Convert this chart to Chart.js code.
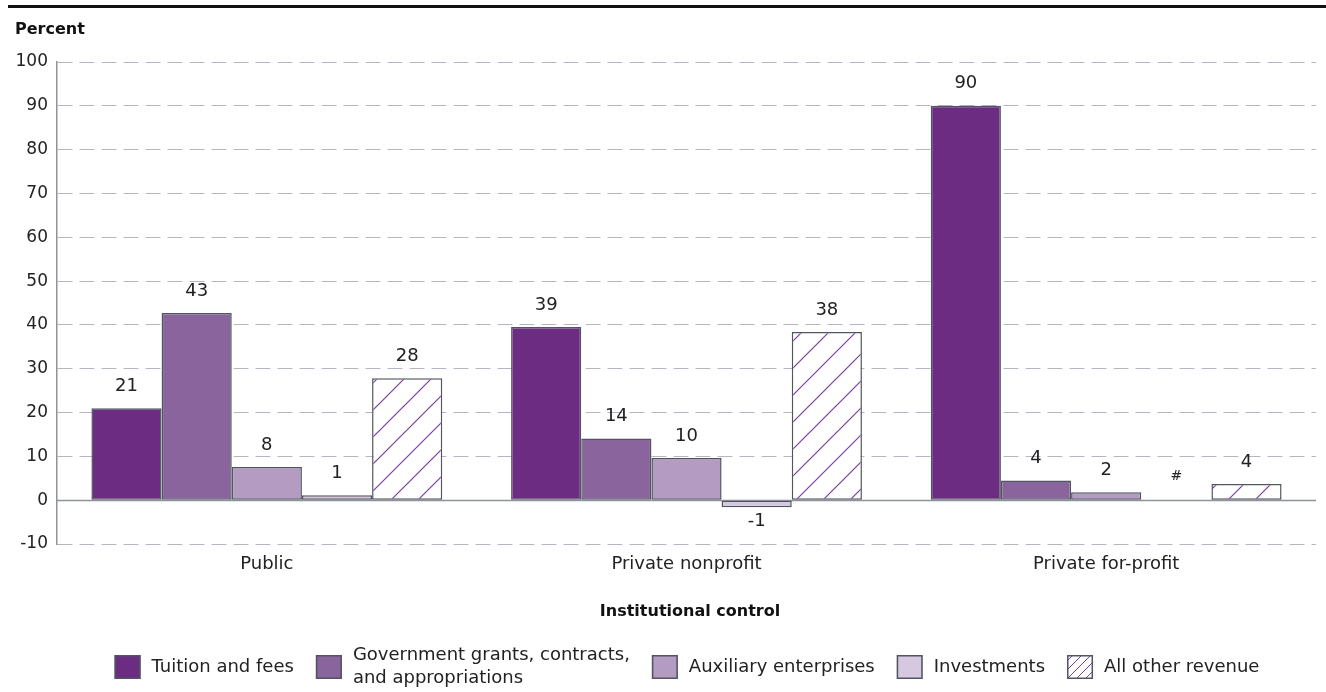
<!DOCTYPE html>
<html>
<head>
<meta charset="utf-8">
<script src="https://cdn.jsdelivr.net/npm/chart.js@4.4.1/dist/chart.umd.min.js"></script>
<style>
  html, body { margin: 0; padding: 0; background: #fff; }
  #wrap { width: 1326px; height: 692px; position: relative; }
</style>
</head>
<body>
<div id="wrap"><canvas id="myChart" width="1326" height="692"></canvas></div>
<script>
// revenue share by institutional control
const categories = ["Public", "Private nonprofit", "Private for-profit"];
const seriesNames = ["Tuition and fees", ["Government grants, contracts,", "and appropriations"], "Auxiliary enterprises", "Investments", "All other revenue"];

const tuition = [21, 39.5, 90];
const government = [42.7, 14.1, 4.5];
const auxiliary = [7.6, 9.6, 1.8];
const investments = [1.1, -1.6, 0.1];
const otherRevenue = [27.8, 38.4, 3.7];

const tuitionLabels = ["21", "39", "90"];
const governmentLabels = ["43", "14", "4"];
const auxiliaryLabels = ["8", "10", "2"];
const investmentsLabels = ["1", "-1", "#"];
const otherLabels = ["28", "38", "4"];

const yMin = -10, yMax = 100, yStep = 10;

const FONT = "'DejaVu Sans', sans-serif";
const BORDER = '#50555f';
const HATCH = '#7b3ca3';

// diagonal hatch for "all other revenue"
function makeHatch(s, w) {
    const c = document.createElement('canvas');
    c.width = s; c.height = s;
    const g = c.getContext('2d');
    g.fillStyle = '#fff';
    g.fillRect(0, 0, s, s);
    g.strokeStyle = HATCH;
    g.lineWidth = w;
    g.beginPath();
    g.moveTo(0, s); g.lineTo(s, 0);
    g.moveTo(-2, 2); g.lineTo(2, -2);
    g.moveTo(s - 2, s + 2); g.lineTo(s + 2, s - 2);
    g.stroke();
    return document.getElementById('myChart').getContext('2d').createPattern(c, 'repeat');
}
const hatch = makeHatch(27, 1.2);
const hatchSmall = makeHatch(9, 1);

const fills = ['#6b2c82', '#8a649c', '#b39bc2', '#d6c8e0', hatch];
const legendFills = ['#6b2c82', '#8a649c', '#b39bc2', '#d6c8e0', hatchSmall];
const allLabels = [tuitionLabels, governmentLabels, auxiliaryLabels, investmentsLabels, otherLabels];

const extras = {
    id: 'extras',
    beforeDatasetsDraw(chart) {
        const { ctx, chartArea, scales } = chart;
        const y0 = Math.round(scales.y.getPixelForValue(0)) + 0.5;
        ctx.save();
        ctx.strokeStyle = '#8e929b';
        ctx.lineWidth = 1.3;
        ctx.beginPath();
        ctx.moveTo(chartArea.left, y0);
        ctx.lineTo(chartArea.right, y0);
        ctx.stroke();
        ctx.restore();
    },
    afterDatasetsDraw(chart) {
        const { ctx } = chart;
        ctx.save();
        ctx.fillStyle = '#222';
        ctx.textAlign = 'center';
        chart.data.datasets.forEach((ds, i) => {
            const meta = chart.getDatasetMeta(i);
            meta.data.forEach((bar, j) => {
                const txt = allLabels[i][j];
                const v = ds.data[j];
                if (txt === '#') {
                    ctx.font = '14px ' + FONT;
                    ctx.textBaseline = 'bottom';
                    ctx.fillText(txt, bar.x, bar.y - 16);
                } else if (v < 0) {
                    ctx.font = '18px ' + FONT;
                    ctx.textBaseline = 'top';
                    ctx.fillText(txt, bar.x, bar.y + 5);
                } else {
                    ctx.font = '18px ' + FONT;
                    ctx.textBaseline = 'bottom';
                    ctx.fillText(txt, bar.x, bar.y - 13);
                }
            });
        });
        ctx.restore();
    },
    afterDraw(chart) {
        const { ctx, chartArea } = chart;
        ctx.save();
        // top rule
        ctx.fillStyle = '#111';
        ctx.fillRect(8, 5, 1318, 3);
        // y title
        ctx.fillStyle = '#111';
        ctx.font = 'bold 16px ' + FONT;
        ctx.textAlign = 'left';
        ctx.textBaseline = 'middle';
        ctx.fillText('Percent', 15, 30);
        // x title
        ctx.textAlign = 'center';
        ctx.fillText('Institutional control', 690, 612);

        // legend
        ctx.font = '18px ' + FONT;
        const bw = 26, bh = 24, gapText = 11, gapItem = 22;
        const widths = seriesNames.map(n => {
            const lines = Array.isArray(n) ? n : [n];
            return Math.max(...lines.map(l => ctx.measureText(l).width));
        });
        const total = widths.reduce((a, w) => a + bw + gapText + w, 0) + gapItem * (widths.length - 1);
        let x = 687 - total / 2;
        const cy = 667;
        seriesNames.forEach((n, i) => {
            ctx.fillStyle = legendFills[i];
            ctx.fillRect(x, cy - bh / 2, bw, bh);
            ctx.strokeStyle = BORDER;
            ctx.lineWidth = 1.5;
            ctx.strokeRect(x + 0.75, cy - bh / 2 + 0.75, bw - 1.5, bh - 1.5);
            ctx.fillStyle = '#222';
            ctx.textAlign = 'left';
            ctx.textBaseline = 'middle';
            const lines = Array.isArray(n) ? n : [n];
            lines.forEach((l, k) => {
                const off = (k - (lines.length - 1) / 2) * 23;
                ctx.fillText(l, x + bw + gapText, cy + off);
            });
            x += bw + gapText + widths[i] + gapItem;
        });
        ctx.restore();
    }
};

const makeSet = (i, data) => ({
    label: Array.isArray(seriesNames[i]) ? seriesNames[i].join(' ') : seriesNames[i],
    data: data,
    backgroundColor: fills[i],
    borderColor: BORDER,
    borderWidth: 1.5,
    borderSkipped: false
});

const ctx = document.getElementById('myChart');
const myChart = new Chart(ctx, {
    type: 'bar',
    data: {
        labels: categories,
        datasets: [
            makeSet(0, tuition),
            makeSet(1, government),
            makeSet(2, auxiliary),
            makeSet(3, investments),
            makeSet(4, otherRevenue)
        ]
    },
    options: {
        responsive: false,
        animation: false,
        datasets: {
            bar: { categoryPercentage: 0.836, barPercentage: 1 }
        },
        layout: { padding: { left: 0, top: 62, right: 10, bottom: 108 } },
        plugins: {
            legend: { display: false },
            tooltip: { enabled: false }
        },
        scales: {
            x: {
                grid: { display: false, drawTicks: false },
                border: { display: false },
                ticks: { color: '#222', font: { family: FONT, size: 18 }, padding: 10 },
                afterFit(scale) { scale.height = 40; }
            },
            y: {
                min: yMin,
                max: yMax,
                ticks: {
                    stepSize: yStep,
                    color: '#222',
                    font: { family: FONT, size: 17 },
                    padding: 9
                },
                grid: { color: '#b6b6c2', lineWidth: 1, drawTicks: false },
                border: { display: true, color: '#8e929b', width: 1.5, dash: [15, 7] },
                afterFit(scale) { scale.width = 57; }
            }
        }
    },
    plugins: [extras]
});
</script>
</body>
</html>
